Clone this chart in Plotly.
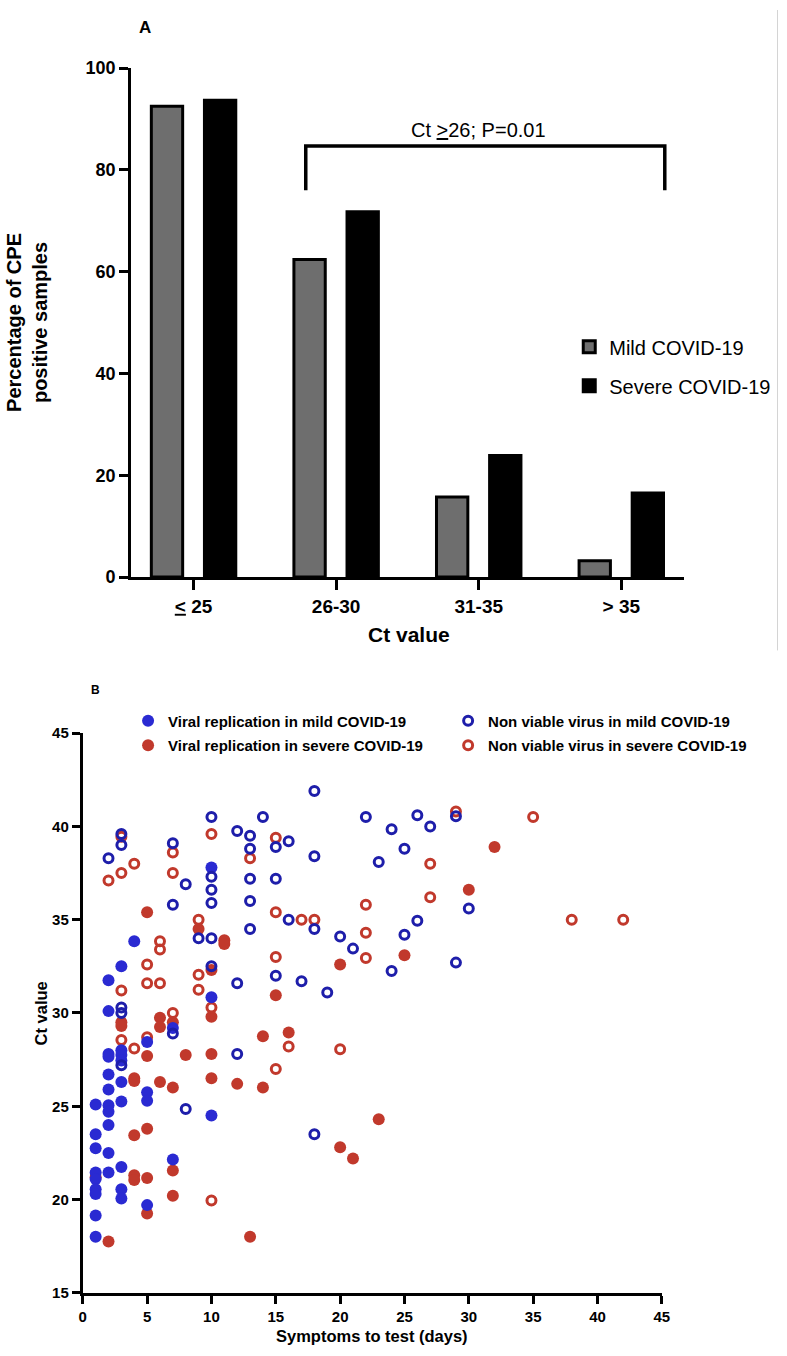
import plotly.graph_objects as go

# ---------------- Panel A data ----------------
ct_categories = ["≤25", "26-30", "31-35", ">35"]
ct_ticktext = ["<u>&lt;</u> 25", "26-30", "31-35", "&gt; 35"]
mild_pct = [92.5, 62.4, 15.7, 3.2]
severe_pct = [93.7, 71.8, 23.9, 16.5]

# ---------------- Panel B data ----------------
mild_rep_days = [1, 1, 1, 1, 1, 1, 1, 1, 1,
                 2, 2, 2, 2, 2, 2, 2, 2, 2, 2, 2,
                 3, 3, 3, 3, 3, 3, 3, 3, 3,
                 4, 5, 5, 5, 5, 7, 7, 10, 10, 10]
mild_rep_ct = [25.1, 23.5, 22.75, 21.45, 21.1, 20.55, 20.3, 19.15, 18.0,
               31.75, 30.1, 27.8, 27.65, 26.7, 25.9, 25.05, 24.7, 24.0, 22.5, 21.45,
               32.5, 28.0, 27.75, 27.45, 26.3, 25.25, 21.75, 20.55, 20.05,
               33.85, 28.45, 25.75, 25.3, 19.7, 29.2, 22.15, 37.8, 30.85, 24.5]

mild_nv_days = [2, 3, 3, 3, 3, 3, 7, 7, 7, 8, 8, 9,
                10, 10, 10, 10, 10, 10, 12, 12, 12,
                13, 13, 13, 13, 13, 14, 15, 15, 15, 16, 16, 17,
                18, 18, 18, 18, 19, 20, 21, 22, 23, 24, 24, 25, 25,
                26, 26, 27, 29, 29, 30]
mild_nv_ct = [38.3, 39.6, 39.0, 30.3, 30.0, 27.2, 39.1, 35.8, 28.9, 36.9, 24.85, 34.0,
              40.5, 37.3, 36.6, 35.9, 34.0, 32.5, 39.75, 31.6, 27.8,
              39.5, 38.8, 37.2, 36.0, 34.5, 40.5, 38.9, 37.2, 32.0, 39.2, 35.0, 31.7,
              41.9, 38.4, 34.5, 23.5, 31.1, 34.1, 33.45, 40.5, 38.1, 39.85, 32.25, 38.8, 34.2,
              40.6, 34.95, 40.0, 40.55, 32.7, 35.6]

severe_rep_days = [1, 2, 3, 3, 4, 4, 4, 4, 4, 5, 5, 5, 5, 5,
                   6, 6, 6, 7, 7, 7, 7, 8, 9, 10, 10, 10, 10,
                   11, 11, 12, 13, 14, 14, 15, 16, 20, 20, 21, 23, 25, 30, 32]
severe_rep_ct = [21.2, 17.75, 29.5, 29.3, 26.5, 26.35, 23.45, 21.3, 21.05, 35.4, 27.7, 23.8, 21.15, 19.25,
                 29.75, 29.25, 26.3, 29.5, 26.0, 21.55, 20.2, 27.75, 34.5, 32.3, 29.8, 27.8, 26.5,
                 33.9, 33.7, 26.2, 18.0, 28.75, 26.0, 30.95, 28.95, 32.6, 22.8, 22.2, 24.3, 33.1, 36.6, 38.9]

severe_nv_days = [2, 3, 3, 3, 3, 4, 4, 5, 5, 5, 6, 6, 6, 7, 7, 7,
                  9, 9, 9, 10, 10, 10, 13, 15, 15, 15, 15, 16, 17, 18, 20,
                  22, 22, 22, 27, 27, 29, 35, 38, 42]
severe_nv_ct = [37.1, 39.45, 37.5, 31.2, 28.55, 38.0, 28.1, 32.6, 31.6, 28.7, 33.85, 33.4, 31.6, 38.6, 37.5, 30.0,
                35.0, 32.05, 31.25, 39.6, 30.3, 19.95, 38.3, 39.4, 35.4, 33.0, 27.0, 28.2, 35.0, 35.0, 28.05,
                35.8, 34.3, 32.95, 38.0, 36.2, 40.8, 40.5, 35.0, 35.0]

FONT = "Liberation Sans, Arial, Helvetica, sans-serif"
BLUE = "#2a2ad2"
BLUE_RING = "#1e1eaa"
RED = "#c1392c"
W, H = 787, 1356

fig = go.Figure()

# Panel A bars
fig.add_trace(go.Bar(x=ct_categories, y=mild_pct, name="Mild COVID-19",
                     marker=dict(color="#6e6e6e", line=dict(color="black", width=3)),
                     xaxis="x", yaxis="y", legend="legend", legendgroup="a1"))
fig.add_trace(go.Bar(x=ct_categories, y=severe_pct, name="Severe COVID-19",
                     marker=dict(color="black", line=dict(color="black", width=3)),
                     xaxis="x", yaxis="y", legend="legend", legendgroup="a2"))

# Panel B scatter
fig.add_trace(go.Scatter(x=severe_rep_days, y=severe_rep_ct, mode="markers",
                         name="Viral replication in severe COVID-19",
                         marker=dict(color=RED, size=12, symbol="circle"),
                         xaxis="x2", yaxis="y2", legend="legend2", legendgroup="b2", legendrank=2))
fig.add_trace(go.Scatter(x=severe_nv_days, y=severe_nv_ct, mode="markers",
                         name="Non viable virus in severe COVID-19",
                         marker=dict(color=RED, size=9, symbol="circle-open", line=dict(color=RED, width=3)),
                         xaxis="x2", yaxis="y2", legend="legend3", legendgroup="b4", legendrank=2))
fig.add_trace(go.Scatter(x=mild_rep_days, y=mild_rep_ct, mode="markers",
                         name="Viral replication in mild COVID-19",
                         marker=dict(color=BLUE, size=12, symbol="circle"),
                         xaxis="x2", yaxis="y2", legend="legend2", legendgroup="b1", legendrank=1))
fig.add_trace(go.Scatter(x=mild_nv_days, y=mild_nv_ct, mode="markers",
                         name="Non viable virus in mild COVID-19",
                         marker=dict(color=BLUE_RING, size=9, symbol="circle-open", line=dict(color=BLUE_RING, width=3)),
                         xaxis="x2", yaxis="y2", legend="legend3", legendgroup="b3", legendrank=1))

def px_x(p):
    return p / W

def px_y(p):
    return 1 - p / H

axis_common = dict(showline=True, linecolor="black", linewidth=3, ticks="outside",
                   tickcolor="black", tickwidth=3, showgrid=False, zeroline=False,
                   mirror=False)

fig.update_layout(
    width=W, height=H,
    margin=dict(l=0, r=0, t=0, b=0),
    paper_bgcolor="white", plot_bgcolor="white",
    font=dict(family=FONT, color="black"),
    barmode="group", bargap=0.255, bargroupgap=0.41,
    xaxis=dict(domain=[px_x(129), px_x(691)], anchor="y", type="category",
               categoryorder="array", categoryarray=ct_categories,
               tickvals=ct_categories, ticktext=ct_ticktext,
               range=[-0.4385, 3.443], ticklen=10,
               tickfont=dict(size=19, family=FONT, weight="bold"), **axis_common),
    yaxis=dict(domain=[px_y(575.5), px_y(59)], anchor="x", range=[0, 100],
               tickvals=[0, 20, 40, 60, 80, 100], ticklen=9,
               tickfont=dict(size=18, family=FONT, weight="bold"), **axis_common),
    xaxis2=dict(domain=[px_x(80), px_x(668)], anchor="y2", range=[0, 45],
                tickvals=[0, 5, 10, 15, 20, 25, 30, 35, 40, 45], ticklen=8,
                tickfont=dict(size=15, family=FONT, weight="bold"), **axis_common),
    yaxis2=dict(domain=[px_y(1302), px_y(734)], anchor="x2", range=[15, 45],
                tickvals=[15, 20, 25, 30, 35, 40, 45], ticklen=8,
                tickfont=dict(size=15, family=FONT, weight="bold"), **axis_common),
    legend=dict(x=px_x(574), y=px_y(322), xanchor="left", yanchor="top",
                font=dict(size=20, family=FONT), tracegroupgap=10,
                traceorder="grouped", bgcolor="rgba(0,0,0,0)"),
    legend2=dict(x=px_x(126), y=px_y(705), xanchor="left", yanchor="top",
                 font=dict(size=15, family=FONT, weight="bold"), tracegroupgap=2,
                 traceorder="grouped", bgcolor="rgba(0,0,0,0)"),
    legend3=dict(x=px_x(451), y=px_y(705), xanchor="left", yanchor="top",
                 font=dict(size=15, family=FONT, weight="bold"), tracegroupgap=2,
                 traceorder="grouped", bgcolor="rgba(0,0,0,0)"),
    showlegend=True,
)

# Significance bracket (Panel A)
fig.add_shape(type="path", xref="x", yref="y",
              path="M 0.787 76 L 0.787 84.7 L 3.305 84.7 L 3.305 76",
              line=dict(color="black", width=3.5))
fig.add_annotation(x=2.0, y=87.9, xref="x", yref="y", text="Ct <u>&gt;</u>26; P=0.01",
                   showarrow=False, font=dict(size=20, family=FONT))

# faint frame edge at the right of panel A, as in the source figure
fig.add_shape(type="line", xref="paper", yref="paper",
              x0=px_x(785.5), x1=px_x(785.5), y0=px_y(0), y1=px_y(650),
              line=dict(color="#d4d4d4", width=1))

annos = [
    dict(x=px_x(143), y=px_y(17.5), text="<b>A</b>", size=17),
    dict(x=px_x(92.5), y=px_y(690), text="<b>B</b>", size=12),
    dict(x=px_x(411), y=px_y(634), text="<b>Ct value</b>", size=21),
    dict(x=px_x(374), y=px_y(1346), text="<b>Symptoms to test (days)</b>", size=16.5),
]
for a in annos:
    fig.add_annotation(x=a["x"], y=a["y"], xref="paper", yref="paper", text=a["text"],
                       showarrow=False, xanchor="center", yanchor="middle",
                       font=dict(size=a["size"], family=FONT))

fig.add_annotation(x=px_x(24), y=px_y(317), xref="paper", yref="paper",
                   text="<b>Percentage of CPE<br>positive samples</b>", textangle=-90,
                   showarrow=False, xanchor="center", yanchor="middle",
                   font=dict(size=20, family=FONT))
fig.add_annotation(x=px_x(38), y=px_y(1018), xref="paper", yref="paper",
                   text="<b>Ct value</b>", textangle=-90,
                   showarrow=False, xanchor="center", yanchor="middle",
                   font=dict(size=16.5, family=FONT))

fig.write_html("out.html", config={"displayModeBar": False},
               post_script="document.body.style.margin='0px';document.body.style.overflow='hidden';")
